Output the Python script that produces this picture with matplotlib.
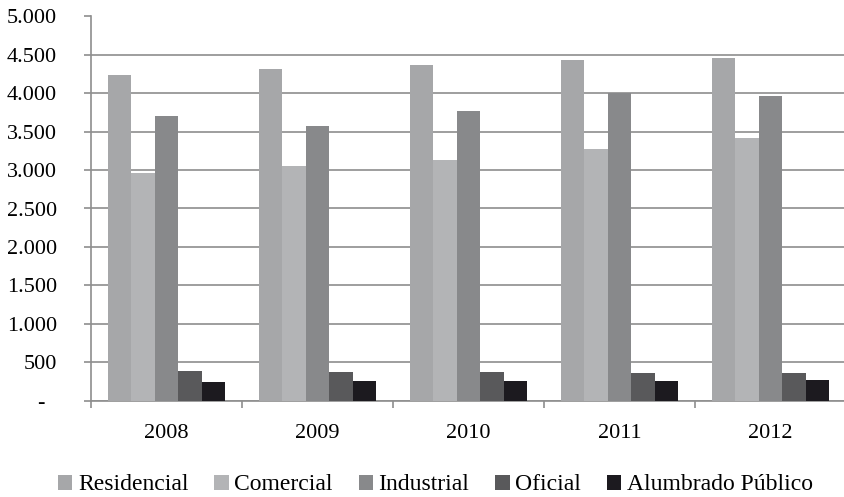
import numpy as np
import matplotlib.pyplot as plt
from matplotlib.ticker import FuncFormatter

years = ['2008', '2009', '2010', '2011', '2012']
series = ['Residencial', 'Comercial', 'Industrial', 'Oficial', 'Alumbrado Público']
residencial = [4234, 4316, 4368, 4433, 4459]
comercial = [2961, 3052, 3131, 3274, 3417]
industrial = [3704, 3574, 3769, 4000, 3964]
oficial = [382, 369, 369, 356, 356]
alumbrado = [238, 251, 251, 251, 265]

values = [residencial, comercial, industrial, oficial, alumbrado]
colors = ['#a6a7a9', '#b3b4b6', '#88898b', '#59595b', '#1c1a1f']

plt.rcParams['font.family'] = ['Liberation Serif', 'DejaVu Serif']


def fmt(v, pos):
    # accounting style: zero shown as a dash, dot as thousands separator
    if v == 0:
        return '-  '
    return '{:,.0f}'.format(v).replace(',', '.')


fig = plt.figure(figsize=(8.44, 4.97), dpi=100)
ax = fig.add_axes([91 / 844, 1 - 400.5 / 497, 755 / 844, 384 / 497])

x = np.arange(len(years))
w = 0.155
for i, (name, vals, c) in enumerate(zip(series, values, colors)):
    ax.bar(x + (i - 2) * w, vals, width=w, color=c, label=name, zorder=3)

ax.set_xlim(-0.5, len(years) - 0.5)
ax.set_ylim(0, 5000)
ax.set_yticks(np.arange(0, 5001, 500))
ax.yaxis.set_major_formatter(FuncFormatter(fmt))
ax.grid(axis='y', color='#8e8e8e', linewidth=1.2, zorder=0)

ax.set_xticks(x)
ax.set_xticklabels(years)
ax.set_xticks(np.arange(-0.5, len(years)), minor=True)
ax.tick_params(axis='x', which='major', length=0, pad=17, labelsize=16)
ax.tick_params(axis='x', which='minor', length=5, width=1.2, color='#8e8e8e')
ax.tick_params(axis='y', length=5, width=1.2, color='#8e8e8e', pad=19.5, labelsize=16)
for lab in ax.get_yticklabels():
    lab.set_horizontalalignment('right')

for s in ['top', 'right']:
    ax.spines[s].set_visible(False)
for s in ['left', 'bottom']:
    ax.spines[s].set_color('#8e8e8e')
    ax.spines[s].set_linewidth(1.2)

fig.legend(loc='center', bbox_to_anchor=(435.5 / 844, 1 - 485 / 497), ncol=5,
           frameon=False, fontsize=17, handlelength=0.6, handleheight=0.6,
           handletextpad=0.24, columnspacing=1.1, borderaxespad=0, borderpad=0)

fig.savefig('out.png', dpi=100)
